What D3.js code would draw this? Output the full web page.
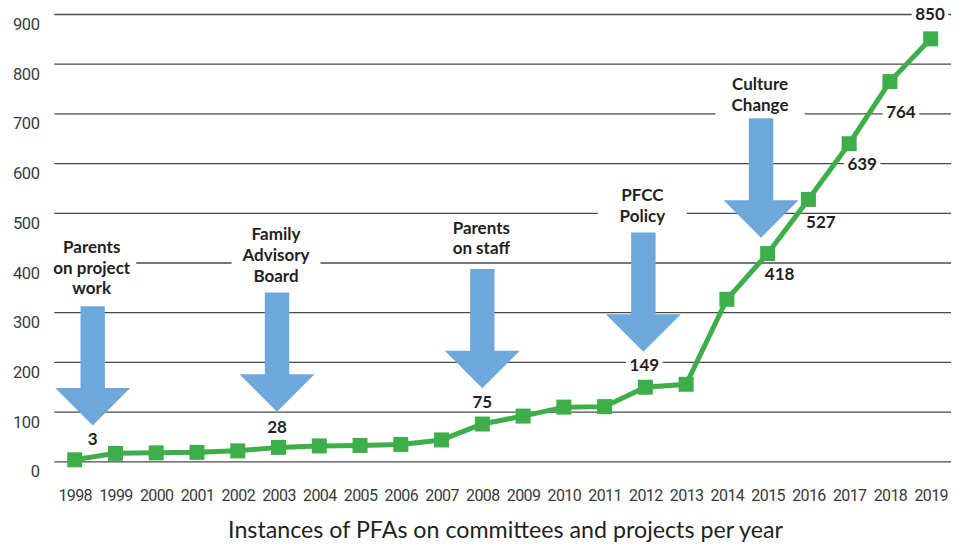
<!DOCTYPE html>
<html><head><meta charset="utf-8">
<script src="https://cdn.jsdelivr.net/npm/d3@7"></script>
<style>html,body{margin:0;padding:0;background:#fff;} svg{display:block;}</style>
</head><body>
<svg id="chart" width="964" height="546"></svg>
<script>
// ---------- DATA ----------
const years = [1998,1999,2000,2001,2002,2003,2004,2005,2006,2007,2008,2009,2010,2011,2012,2013,2014,2015,2016,2017,2018,2019];
const values = [3,16,17,18,21,28,31,32,34,43,75,91,109,110,149,155,326,418,527,639,764,850];
const yTicks = [0,100,200,300,400,500,600,700,800,900];
const labeledYears = [1998,2003,2008,2012,2015,2016,2017,2018,2019];
const annotationYears = [1998,2003,2008,2012,2015];
const annotationTexts = [["Parents","on project","work"],["Family","Advisory","Board"],["Parents","on staff"],["PFCC","Policy"],["Culture","Change"]];
const xTitle = "Instances of PFAs on committees and projects per year";

// ---------- LAYOUT / STYLE ----------
const GREEN = "#3dae4a", BLUE = "#6ea8db", TEXT = "#231f20";
const labelOffsets = {1998:[18,-21],2003:[-1.5,-21],2008:[0,-22.5],2012:[-1,-23],2015:[12,19.5],2016:[12.5,22],2017:[13,20],2018:[11,30],2019:[-0.7,-25]};
const arrowLayout = [ // [tip dx, tip dy from data point, gap from shaft top to last text line]
  [18,-34.3,18.4],[-1.5,-35.7,17.3],[0,-35.8,21],[-2,-35.5,17.3],[-6.6,-15.9,14]
];
const ARROW_LEN = 119.3, HEAD_H = 37.4, HEAD_HW = 37.5, SHAFT_HW = 12.2, LINE_H = 20.8;

const svg = d3.select("#chart");
const x = d3.scaleLinear().domain([1998,2019]).range([74.7,930.7]);
const y = d3.scaleLinear().domain([0,900]).range([461.3,14]);
const gridX0 = x(1997.5), gridX1 = x(2019.5);

// gridlines + y labels via axis
const yAxis = d3.axisLeft(y).tickValues(yTicks).tickSize(-(gridX1-gridX0)).tickPadding(0).tickFormat(d3.format("d"));
const gy = svg.append("g").attr("transform",`translate(${gridX0},0)`).call(yAxis);
gy.select(".domain").remove();
gy.selectAll(".tick line").attr("stroke","#4a4a4a").attr("stroke-width",1.3);
gy.selectAll(".tick text")
  .attr("x",-(gridX0-39.5)).attr("dy","0").attr("y",10)
  .attr("dominant-baseline","central").attr("letter-spacing",-0.4)
  .attr("font-family","Roboto, 'Open Sans', sans-serif").attr("font-size",16.5).attr("fill","#3a3a3a");

// x tick labels via axis
const xAxis = d3.axisBottom(x).tickValues(years).tickSize(0).tickPadding(0).tickFormat(d3.format("d"));
const gx = svg.append("g").attr("transform","translate(0,495)").call(xAxis);
gx.select(".domain").remove();
gx.selectAll(".tick text").attr("y",0).attr("dy","0").attr("dominant-baseline","central").attr("letter-spacing",-0.6)
  .attr("font-family","Roboto, 'Open Sans', sans-serif").attr("font-size",16).attr("fill","#3a3a3a");

// x title
const tt = svg.append("text").attr("x",505.5).attr("y",538).attr("text-anchor","middle")
  .attr("font-family","Lato, 'Open Sans', sans-serif").attr("font-size",21).attr("fill",TEXT).text(xTitle);
{ const w = tt.node().getComputedTextLength(); tt.attr("font-size", 21*555/w); }

// annotations: white boxes + text, arrows
const valueOf = yr => values[years.indexOf(yr)];
const annG = svg.append("g");
annotationYears.forEach((yr,i)=>{
  const [dx,dy,gap] = arrowLayout[i];
  const tipX = x(yr)+dx, tipY = y(valueOf(yr))+dy;
  const topY = tipY - ARROW_LEN;
  const lines = annotationTexts[i];
  const lastY = topY - gap;
  const firstY = lastY - (lines.length-1)*LINE_H;
  const cx = tipX - 1;
  annG.append("rect").attr("x",cx-44.5).attr("y",firstY-12).attr("width",89).attr("height",lastY-firstY+24).attr("fill","#fff");
  lines.forEach((ln,j)=>{
    annG.append("text").attr("x",cx).attr("y",firstY+j*LINE_H).attr("text-anchor","middle")
      .attr("dominant-baseline","central").attr("font-family","Lato, 'Open Sans', sans-serif")
      .attr("font-weight",700).attr("font-size",17).attr("fill",TEXT).text(ln);
  });
  const pts = [[0,0],[-HEAD_HW,-HEAD_H],[-SHAFT_HW,-HEAD_H],[-SHAFT_HW,-ARROW_LEN],[SHAFT_HW,-ARROW_LEN],[SHAFT_HW,-HEAD_H],[HEAD_HW,-HEAD_H]];
  annG.append("polygon").attr("points",pts.map(p=>[tipX+p[0],tipY+p[1]].join(",")).join(" ")).attr("fill",BLUE);
});

// line + markers
const data = years.map((yr,i)=>({yr, v:values[i]}));
svg.append("path").datum(data)
  .attr("d", d3.line().x(d=>x(d.yr)).y(d=>y(d.v)))
  .attr("fill","none").attr("stroke",GREEN).attr("stroke-width",5).attr("stroke-linejoin","miter");
svg.append("g").selectAll("rect").data(data).join("rect")
  .attr("x",d=>x(d.yr)-7.5).attr("y",d=>y(d.v)-7.5).attr("width",15).attr("height",15).attr("fill",GREEN);

// value labels with white background
const lblG = svg.append("g");
labeledYears.forEach(yr=>{
  const v = valueOf(yr);
  const [dx,dy] = labelOffsets[yr];
  const lx = x(yr)+dx, ly = y(v)+dy;
  const bg = lblG.append("rect").attr("fill","#fff");
  const t = lblG.append("text").attr("x",lx).attr("y",ly).attr("text-anchor","middle").attr("dominant-baseline","central")
    .attr("font-family","Lato, 'Open Sans', sans-serif").attr("font-weight",700).attr("font-size",17).attr("fill",TEXT).text(v);
  const w = t.node().getComputedTextLength();
  bg.attr("x",lx-w/2-3.5).attr("y",ly-6.5).attr("width",w+7).attr("height",13);
});
</script>
</body></html>
